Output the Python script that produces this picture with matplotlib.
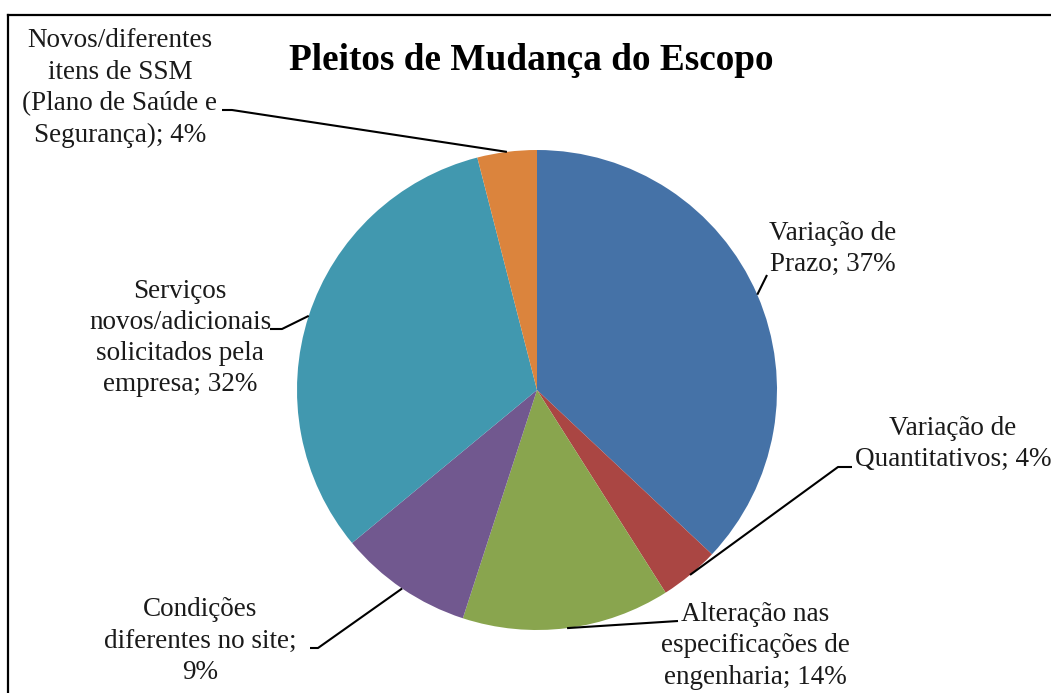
import numpy as np
import matplotlib
matplotlib.use("Agg")
import matplotlib.pyplot as plt

# data
labels = [
    "Variação de\nPrazo; 37%",
    "Variação de\nQuantitativos; 4%",
    "Alteração nas\nespecificações de\nengenharia; 14%",
    "Condições\ndiferentes no site;\n9%",
    "Serviços\nnovos/adicionais\nsolicitados pela\nempresa; 32%",
    "Novos/diferentes\nitens de SSM\n(Plano de Saúde e\nSegurança); 4%",
]
values = [37, 4, 14, 9, 32, 4]
colors = ["#4572A7", "#AA4643", "#89A54E", "#71588F", "#4198AF", "#DB843D"]
title = "Pleitos de Mudança do Escopo"

# layout (pixels, y measured from top of image)
W, H = 1051, 693
center_px = (537, 390)
radius_px = 240
text_pos = [(833, 249), (953, 444), (755, 646), (200, 641), (180, 338), (120, 88)]
# leader: points from text side towards pie edge (stub then elbow)
leaders = [
    [(767, 275)],
    [(852, 467), (838, 467)],
    [(678, 621)],
    [(310, 648), (318, 648)],
    [(270, 329), (282, 329)],
    [(222, 110), (232, 110)],
]

plt.rcParams["font.family"] = ["Liberation Serif", "DejaVu Serif"]

fig = plt.figure(figsize=(W / 100, H / 100), dpi=100)
ax = fig.add_axes([0, 0, 1, 1])

cx, cy = center_px[0], H - center_px[1]
wedges, _ = ax.pie(values, colors=colors, startangle=90, counterclock=False,
                   center=(cx, cy), radius=radius_px, frame=True,
                   wedgeprops=dict(linewidth=0))
ax.set_xlim(0, W)
ax.set_ylim(0, H)
ax.axis("off")

for w, lab, (tx, ty), pts in zip(wedges, labels, text_pos, leaders):
    mid = np.deg2rad((w.theta1 + w.theta2) / 2)
    ax_pt = (cx + radius_px * np.cos(mid), cy + radius_px * np.sin(mid))
    xs = [p[0] for p in pts] + [ax_pt[0]]
    ys = [H - p[1] for p in pts] + [ax_pt[1]]
    ax.plot(xs, ys, color="black", lw=1.5, solid_capstyle="butt")
    ax.text(tx, H - ty, lab, ha="center", va="center", fontsize=19.5,
            linespacing=1.33, color="#1a1a1a")

ax.text(531, H - 60, title, ha="center", va="center", fontsize=26.8,
        fontweight="bold", color="black")

# chart frame (only top and left visible in the crop)
ax.plot([8, W], [H - 15, H - 15], color="black", lw=1.6)
ax.plot([8, 8], [H - 15, 0], color="black", lw=1.6)

fig.savefig("out.png", dpi=100, facecolor="white")
